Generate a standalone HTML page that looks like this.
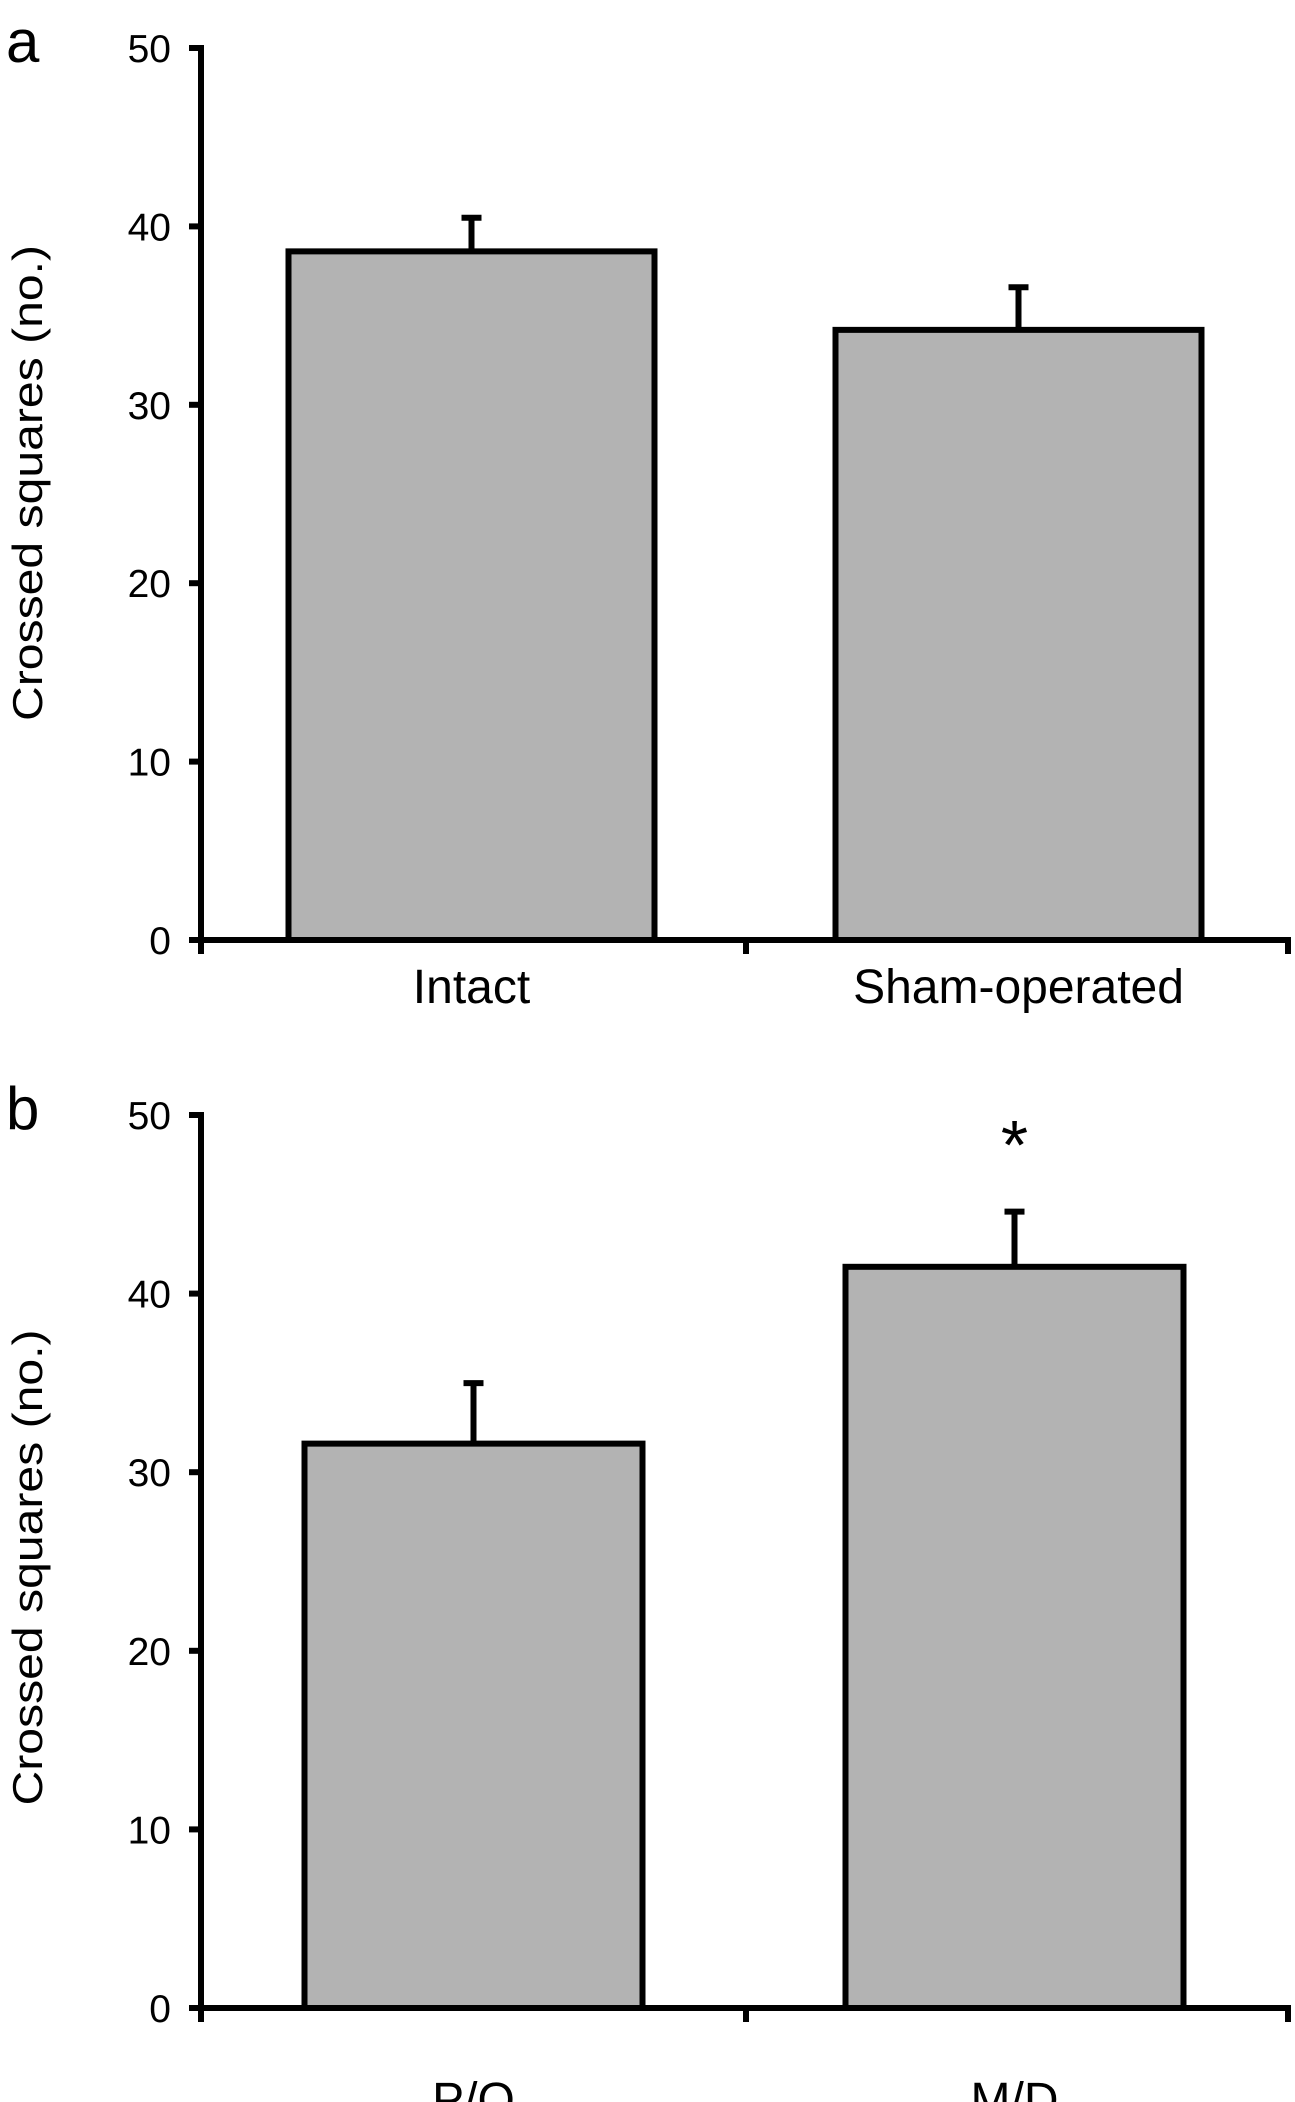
<!DOCTYPE html>
<html><head><meta charset="utf-8"><style>
html,body{margin:0;padding:0;background:#fff;}
svg{display:block;font-family:"Liberation Sans",Arial,sans-serif;}
</style></head><body>
<svg id="chart" width="1295" height="2102" viewBox="0 0 1295 2102" xmlns="http://www.w3.org/2000/svg"></svg>
<script>
const yTicks = [0, 10, 20, 30, 40, 50];
const catsA = ["Intact", "Sham-operated"];
const meansA = [38.6, 34.2];
const errA = [2.0, 2.5];
const catsB = ["P/O", "M/D"];
const meansB = [31.6, 41.5];
const errB = [3.5, 3.2];
const sigB = [false, true];

const NS = "http://www.w3.org/2000/svg";
const svg = document.getElementById('chart');
function mk(tag, attrs, parent) {
  const e = document.createElementNS(NS, tag);
  for (const k in attrs) e.setAttribute(k, attrs[k]);
  (parent || svg).appendChild(e);
  return e;
}
function panel(cfg) {
  const g = mk('g', {});
  
  
  const y = v => cfg.y0 - (v / 50) * (cfg.y0 - cfg.y50);
  const x0 = 201, x1 = 1291;
  const band = (x1 - x0) / cfg.cats.length;
  const L = mk('text', {x: 6, y: cfg.y50 + 14, 'font-size': 60}, g);
  L.textContent = cfg.letter;
  
  
  const yc = (cfg.y0 + cfg.y50) / 2 + cfg.titleShift;
  const T = mk('text', {x: 0, y: 0, 'font-size': 42, 'text-anchor': 'middle', textLength: 476, lengthAdjust: 'spacingAndGlyphs', transform: `translate(42,${yc}) rotate(-90)`}, g);
  T.textContent = 'Crossed squares (no.)';
  
  
  cfg.cats.forEach((c, i) => {
    const cx = x0 + band * (i + 0.5) + cfg.shift[i];
    const w = cfg.barW;
    const top = y(cfg.means[i]);
    const et = y(cfg.means[i] + cfg.errs[i]);
    const el = mk('line', {x1: cx, x2: cx, y1: top, y2: et, stroke: '#000', 'stroke-width': 6}, g);
    
    
    const cap = mk('line', {x1: cx - 10, x2: cx + 10, y1: et + 2, y2: et + 2, stroke: '#000', 'stroke-width': 6}, g);
    
    
    const r = mk('rect', {x: cx - w / 2, y: top, width: w, height: cfg.y0 - top, fill: '#b3b3b3', stroke: '#000', 'stroke-width': 6}, g);
    
    
    const t = mk('text', {x: cx, y: cfg.labelY, 'font-size': 48, 'text-anchor': 'middle'}, g);
    t.textContent = c;
    
    
    if (cfg.sig && cfg.sig[i]) {
      const s = mk('text', {x: cx, y: y(50) + 54, 'font-size': 70, 'text-anchor': 'middle'}, g);
      s.textContent = '*';
      
      
    }
  });
  const ya = mk('line', {x1: x0, x2: x0, y1: y(50) - 3, y2: cfg.y0 + 14, stroke: '#000', 'stroke-width': 6}, g);
  
  
  const xa = mk('line', {x1: x0, x2: x1, y1: cfg.y0, y2: cfg.y0, stroke: '#000', 'stroke-width': 6}, g);
  
  
  for (let i = 1; i <= cfg.cats.length; i++) {
    const tx = x0 + band * i - (i === cfg.cats.length ? 3 : 0);
    const tk = mk('line', {x1: tx, x2: tx, y1: cfg.y0, y2: cfg.y0 + 14, stroke: '#000', 'stroke-width': 6}, g);
    
    
  }
  yTicks.forEach(v => {
    const tk = mk('line', {x1: x0 - 12, x2: x0, y1: y(v), y2: y(v), stroke: '#000', 'stroke-width': 6}, g);
    
    
    const t = mk('text', {x: x0 - 30, y: y(v) + 14, 'font-size': 39, 'text-anchor': 'end'}, g);
    t.textContent = v;
    
    
  });
}
panel({name: 'panel-a', letter: 'a', y50: 48, y0: 940, cats: catsA, means: meansA, errs: errA, barW: 366, shift: [-2, 0], labelY: 1003, titleShift: -11});
panel({name: 'panel-b', letter: 'b', y50: 1115, y0: 2008, cats: catsB, means: meansB, errs: errB, sig: sigB, barW: 338, shift: [0, -4], labelY: 2116, titleShift: 6});
</script>
</body></html>
